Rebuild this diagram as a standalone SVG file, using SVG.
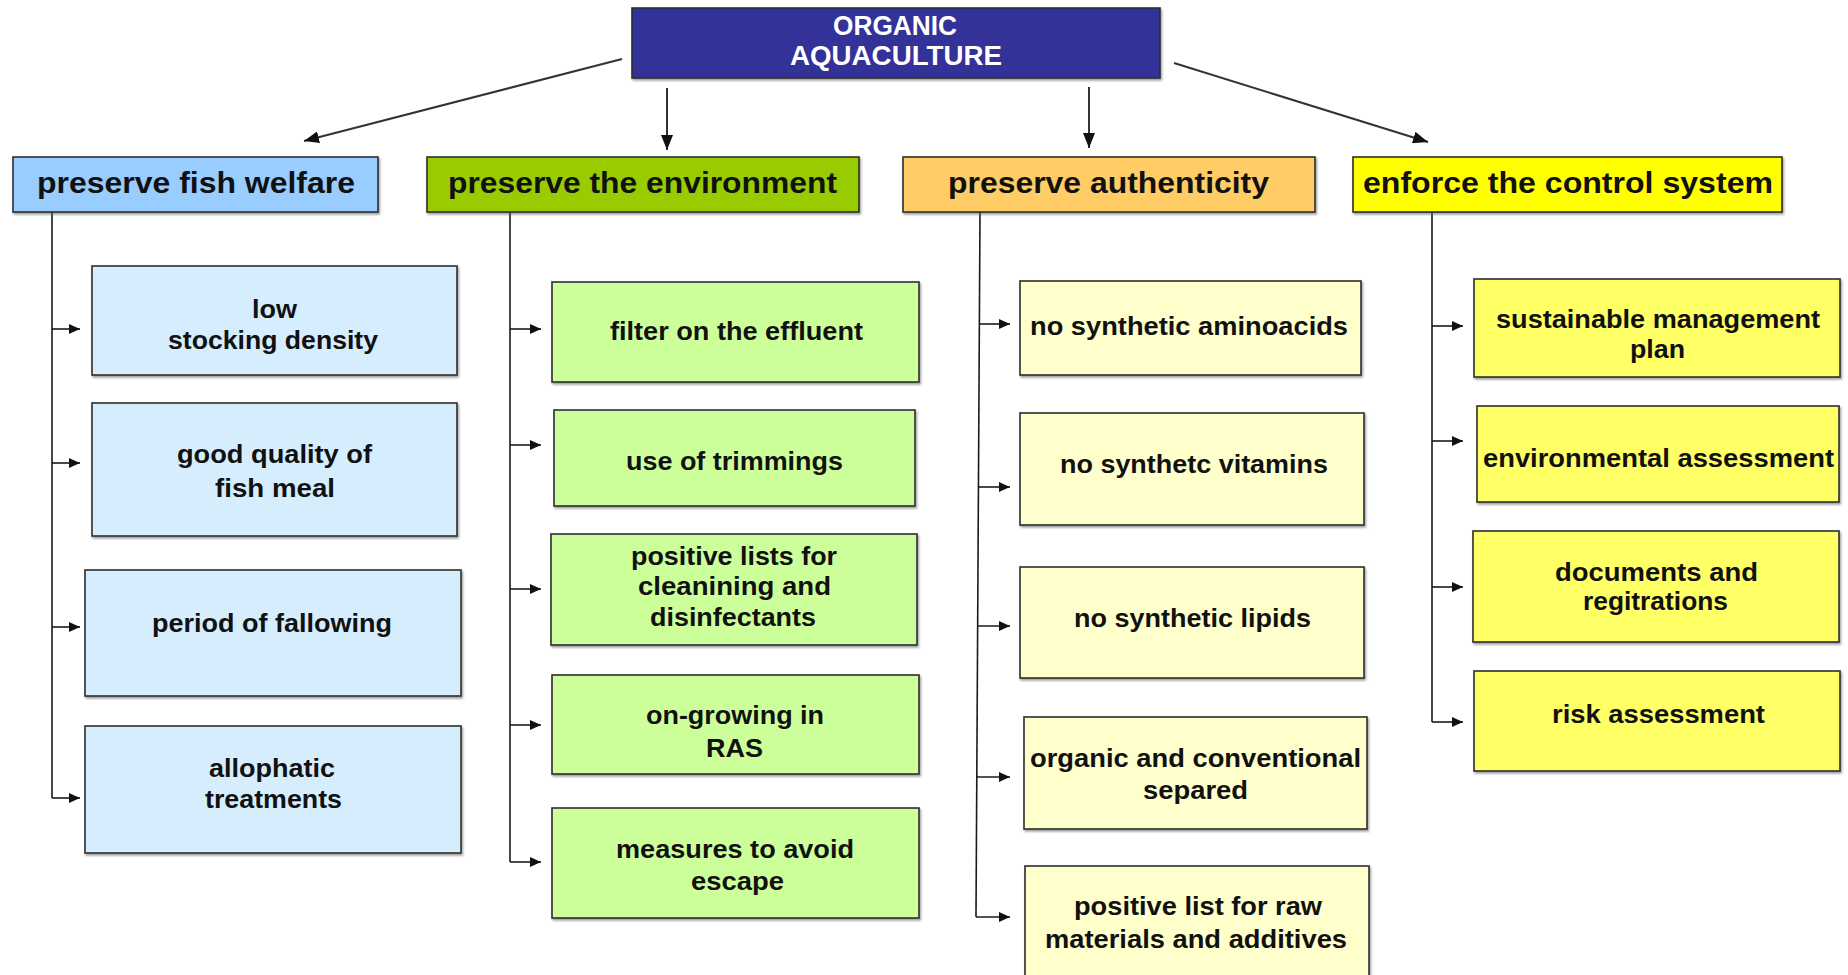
<svg xmlns="http://www.w3.org/2000/svg" width="1848" height="975" viewBox="0 0 1848 975">
  <style>
    .box { stroke: #2e2e2e; stroke-width: 1.6; filter: url(#sh); }
    .t { font-family: "Liberation Sans", Arial, Helvetica, sans-serif; font-weight: bold; fill: #111; text-anchor: middle; }
    .title { font-size: 27px; fill: #ffffff; }
    .head { font-size: 29px; }
    .item { font-size: 26px; }
    .link { stroke: #1a1a1a; stroke-width: 1.6; fill: none; }
    .main { stroke: #333; stroke-width: 2; fill: none; marker-end: url(#bigArrow); }
    .sub { marker-end: url(#smallArrow); }
  </style>
  <defs>
    <filter id="sh" x="-5%" y="-5%" width="110%" height="115%">
      <feDropShadow dx="1.2" dy="1.8" stdDeviation="0.8" flood-color="#555" flood-opacity="0.6"/>
    </filter>
    <marker id="bigArrow" markerUnits="userSpaceOnUse" markerWidth="16" markerHeight="12" refX="15" refY="6" orient="auto">
      <path d="M0,0 L15,6 L0,12 z" fill="#111"/>
    </marker>
    <marker id="smallArrow" markerUnits="userSpaceOnUse" markerWidth="12" markerHeight="10" refX="11" refY="5" orient="auto">
      <path d="M0,0 L11,5 L0,10 z" fill="#111"/>
    </marker>
  </defs>

  <rect width="1848" height="975" fill="#ffffff"/>

  <!-- connectors -->
  <g id="connectors">
    <line class="main" x1="622" y1="59" x2="304" y2="141"/>
    <line class="main" x1="667" y1="88" x2="667" y2="150"/>
    <line class="main" x1="1089" y1="87" x2="1089" y2="148"/>
    <line class="main" x1="1174" y1="63" x2="1428" y2="142"/>

    <!-- fish welfare branch -->
    <line class="link" x1="52" y1="212" x2="52" y2="798"/>
    <line class="link sub" x1="52" y1="329" x2="80" y2="329"/>
    <line class="link sub" x1="52" y1="463" x2="80" y2="463"/>
    <line class="link sub" x1="52" y1="627" x2="80" y2="627"/>
    <line class="link sub" x1="52" y1="798" x2="80" y2="798"/>

    <!-- environment branch -->
    <line class="link" x1="510" y1="212" x2="510" y2="862"/>
    <line class="link sub" x1="510" y1="329" x2="541" y2="329"/>
    <line class="link sub" x1="510" y1="445" x2="541" y2="445"/>
    <line class="link sub" x1="510" y1="589" x2="541" y2="589"/>
    <line class="link sub" x1="510" y1="725" x2="541" y2="725"/>
    <line class="link sub" x1="510" y1="862" x2="541" y2="862"/>

    <!-- authenticity branch -->
    <line class="link" x1="980" y1="212" x2="976" y2="917"/>
    <line class="link sub" x1="979.4" y1="324" x2="1010" y2="324"/>
    <line class="link sub" x1="978.4" y1="487" x2="1010" y2="487"/>
    <line class="link sub" x1="977.7" y1="626" x2="1010" y2="626"/>
    <line class="link sub" x1="976.8" y1="777" x2="1010" y2="777"/>
    <line class="link sub" x1="976" y1="917" x2="1010" y2="917"/>

    <!-- control system branch -->
    <line class="link" x1="1432" y1="212" x2="1432" y2="722"/>
    <line class="link sub" x1="1432" y1="326" x2="1463" y2="326"/>
    <line class="link sub" x1="1432" y1="441" x2="1463" y2="441"/>
    <line class="link sub" x1="1432" y1="587" x2="1463" y2="587"/>
    <line class="link sub" x1="1432" y1="722" x2="1463" y2="722"/>
  </g>

  <!-- root -->
  <g id="organic-aquaculture">
    <rect class="box" x="632" y="8" width="528" height="70" fill="#333399"/>
    <text class="t title" x="895" y="35" textLength="124" lengthAdjust="spacingAndGlyphs">ORGANIC</text>
    <text class="t title" x="896" y="65" textLength="212" lengthAdjust="spacingAndGlyphs">AQUACULTURE</text>
  </g>

  <!-- headers -->
  <g id="fish-welfare">
    <rect class="box" x="13" y="157" width="365" height="55" fill="#99ccff"/>
    <text class="t head" x="196" y="193" textLength="318" lengthAdjust="spacingAndGlyphs">preserve fish welfare</text>
  </g>
  <g id="environment">
    <rect class="box" x="427" y="157" width="432" height="55" fill="#99cc00"/>
    <text class="t head" x="642.5" y="193" textLength="389" lengthAdjust="spacingAndGlyphs">preserve the environment</text>
  </g>
  <g id="authenticity">
    <rect class="box" x="903" y="157" width="412" height="55" fill="#ffcc66"/>
    <text class="t head" x="1108.5" y="193" textLength="321" lengthAdjust="spacingAndGlyphs">preserve authenticity</text>
  </g>
  <g id="control-system">
    <rect class="box" x="1353" y="157" width="429" height="55" fill="#ffff00"/>
    <text class="t head" x="1568" y="193" textLength="410" lengthAdjust="spacingAndGlyphs">enforce the control system</text>
  </g>

  <!-- fish welfare items -->
  <g id="low-stocking-density">
    <rect class="box" x="92" y="266" width="365" height="109" fill="#d5edfc"/>
    <text class="t item" x="274.5" y="318" textLength="45" lengthAdjust="spacingAndGlyphs">low</text>
    <text class="t item" x="273" y="349" textLength="210" lengthAdjust="spacingAndGlyphs">stocking density</text>
  </g>
  <g id="fish-meal-quality">
    <rect class="box" x="92" y="403" width="365" height="133" fill="#d5edfc"/>
    <text class="t item" x="274.5" y="463" textLength="195" lengthAdjust="spacingAndGlyphs">good quality of</text>
    <text class="t item" x="275" y="497" textLength="120" lengthAdjust="spacingAndGlyphs">fish meal</text>
  </g>
  <g id="fallowing">
    <rect class="box" x="85" y="570" width="376" height="126" fill="#d5edfc"/>
    <text class="t item" x="272" y="632" textLength="240" lengthAdjust="spacingAndGlyphs">period of fallowing</text>
  </g>
  <g id="allophatic-treatments">
    <rect class="box" x="85" y="726" width="376" height="127" fill="#d5edfc"/>
    <text class="t item" x="272" y="777" textLength="126" lengthAdjust="spacingAndGlyphs">allophatic</text>
    <text class="t item" x="273.5" y="808" textLength="137" lengthAdjust="spacingAndGlyphs">treatments</text>
  </g>

  <!-- environment items -->
  <g id="effluent-filter">
    <rect class="box" x="552" y="282" width="367" height="100" fill="#ccff99"/>
    <text class="t item" x="736.5" y="340" textLength="253" lengthAdjust="spacingAndGlyphs">filter on the effluent</text>
  </g>
  <g id="trimmings">
    <rect class="box" x="554" y="410" width="361" height="96" fill="#ccff99"/>
    <text class="t item" x="734.5" y="470" textLength="217" lengthAdjust="spacingAndGlyphs">use of trimmings</text>
  </g>
  <g id="disinfectants">
    <rect class="box" x="551" y="534" width="366" height="111" fill="#ccff99"/>
    <text class="t item" x="734" y="565" textLength="206" lengthAdjust="spacingAndGlyphs">positive lists for</text>
    <text class="t item" x="734.5" y="595" textLength="193" lengthAdjust="spacingAndGlyphs">cleanining and</text>
    <text class="t item" x="733" y="626" textLength="166" lengthAdjust="spacingAndGlyphs">disinfectants</text>
  </g>
  <g id="ras">
    <rect class="box" x="552" y="675" width="367" height="99" fill="#ccff99"/>
    <text class="t item" x="735" y="724" textLength="178" lengthAdjust="spacingAndGlyphs">on-growing in</text>
    <text class="t item" x="734.5" y="757" textLength="57" lengthAdjust="spacingAndGlyphs">RAS</text>
  </g>
  <g id="escape">
    <rect class="box" x="552" y="808" width="367" height="110" fill="#ccff99"/>
    <text class="t item" x="735" y="858" textLength="238" lengthAdjust="spacingAndGlyphs">measures to avoid</text>
    <text class="t item" x="737.5" y="890" textLength="93" lengthAdjust="spacingAndGlyphs">escape</text>
  </g>

  <!-- authenticity items -->
  <g id="aminoacids">
    <rect class="box" x="1020" y="281" width="341" height="94" fill="#ffffcc"/>
    <text class="t item" x="1189" y="335" textLength="318" lengthAdjust="spacingAndGlyphs">no synthetic aminoacids</text>
  </g>
  <g id="vitamins">
    <rect class="box" x="1020" y="413" width="344" height="112" fill="#ffffcc"/>
    <text class="t item" x="1194" y="473" textLength="268" lengthAdjust="spacingAndGlyphs">no synthetc vitamins</text>
  </g>
  <g id="lipids">
    <rect class="box" x="1020" y="567" width="344" height="111" fill="#ffffcc"/>
    <text class="t item" x="1192.5" y="627" textLength="237" lengthAdjust="spacingAndGlyphs">no synthetic lipids</text>
  </g>
  <g id="separation">
    <rect class="box" x="1024" y="717" width="343" height="112" fill="#ffffcc"/>
    <text class="t item" x="1195.5" y="767" textLength="331" lengthAdjust="spacingAndGlyphs">organic and conventional</text>
    <text class="t item" x="1195.5" y="799" textLength="105" lengthAdjust="spacingAndGlyphs">separed</text>
  </g>
  <g id="raw-materials">
    <rect class="box" x="1025" y="866" width="344" height="130" fill="#ffffcc"/>
    <text class="t item" x="1198" y="915" textLength="248" lengthAdjust="spacingAndGlyphs">positive list for raw</text>
    <text class="t item" x="1196" y="948" textLength="302" lengthAdjust="spacingAndGlyphs">materials and additives</text>
  </g>

  <!-- control system items -->
  <g id="management-plan">
    <rect class="box" x="1474" y="279" width="366" height="98" fill="#ffff66"/>
    <text class="t item" x="1658" y="328" textLength="324" lengthAdjust="spacingAndGlyphs">sustainable management</text>
    <text class="t item" x="1657.5" y="358" textLength="55" lengthAdjust="spacingAndGlyphs">plan</text>
  </g>
  <g id="environmental-assessment">
    <rect class="box" x="1477" y="406" width="362" height="96" fill="#ffff66"/>
    <text class="t item" x="1658.5" y="467" textLength="351" lengthAdjust="spacingAndGlyphs">environmental assessment</text>
  </g>
  <g id="documents">
    <rect class="box" x="1473" y="531" width="366" height="111" fill="#ffff66"/>
    <text class="t item" x="1656.5" y="581" textLength="203" lengthAdjust="spacingAndGlyphs">documents and</text>
    <text class="t item" x="1655.5" y="610" textLength="145" lengthAdjust="spacingAndGlyphs">regitrations</text>
  </g>
  <g id="risk-assessment">
    <rect class="box" x="1474" y="671" width="366" height="100" fill="#ffff66"/>
    <text class="t item" x="1658.5" y="723" textLength="213" lengthAdjust="spacingAndGlyphs">risk assessment</text>
  </g>
</svg>
